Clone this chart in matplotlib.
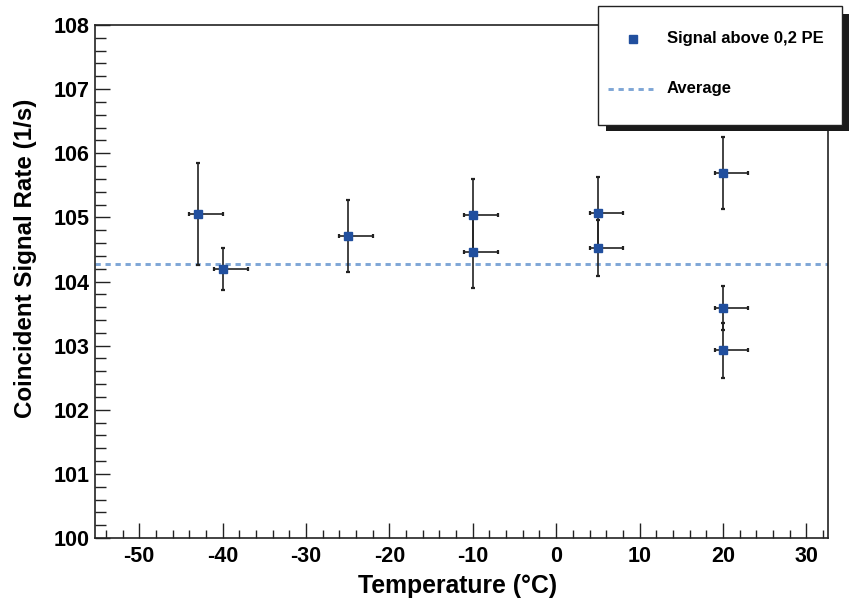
import matplotlib
matplotlib.use("Agg")
import matplotlib.pyplot as plt
from matplotlib.patches import Rectangle
from matplotlib.lines import Line2D
from matplotlib.ticker import MultipleLocator

plt.rcParams['font.family'] = ['Liberation Sans', 'DejaVu Sans']
plt.rcParams['font.weight'] = 'bold'
plt.rcParams['lines.scale_dashes'] = False
plt.rcParams['axes.unicode_minus'] = False

# ---- data ----
temps = [-43, -40, -25, -10, -10, 5, 5, 20, 20, 20]
rates = [105.05, 104.20, 104.71, 105.04, 104.46, 105.07, 104.52, 105.69, 103.59, 102.93]
rate_err = [0.80, 0.33, 0.56, 0.56, 0.56, 0.56, 0.44, 0.56, 0.34, 0.43]
temp_err_lo = [1.0, 1.0, 1.0, 1.0, 1.0, 1.0, 1.0, 1.0, 1.0, 1.0]
temp_err_hi = [3.0, 3.0, 3.0, 3.0, 3.0, 3.0, 3.0, 3.0, 3.0, 3.0]
average = 104.27
series_label = "Signal above 0,2 PE"
avg_label = "Average"
xlabel = "Temperature (°C)"
ylabel = "Coincident Signal Rate (1/s)"

W, H = 850, 600
fig = plt.figure(figsize=(8.5, 6), dpi=100)
ax = fig.add_axes([95 / W, 1 - 538 / H, 733 / W, 513 / H])

marker_color = '#214f9e'
avg_color = '#7ea6d6'

ax.axhline(average, color=avg_color, lw=2.1, dashes=(3.8, 3.4), zorder=2)
ax.errorbar(temps, rates, yerr=rate_err, xerr=[temp_err_lo, temp_err_hi],
            fmt='s', color=marker_color, ms=5.5, mec=marker_color,
            ecolor='#222222', elinewidth=1.2, capsize=1.2, capthick=1.6, zorder=3)

ax.set_xlim(-55.3, 32.6)
ax.set_ylim(100, 108)
ax.xaxis.set_major_locator(MultipleLocator(10))
ax.xaxis.set_minor_locator(MultipleLocator(2))
ax.yaxis.set_major_locator(MultipleLocator(1))
ax.yaxis.set_minor_locator(MultipleLocator(0.2))
ax.tick_params(axis='both', which='both', direction='in', top=False, right=False,
               labelsize=15.5, width=1.0, color='#222222')
ax.tick_params(axis='x', which='major', length=11, pad=6)
ax.tick_params(axis='x', which='minor', length=5.5)
ax.tick_params(axis='y', which='major', length=11, pad=4)
ax.tick_params(axis='y', which='minor', length=8)
for lab in ax.get_xticklabels() + ax.get_yticklabels():
    lab.set_fontweight('bold')
for s in ax.spines.values():
    s.set_linewidth(1.2)
    s.set_color('#222222')

fig.text(458 / W, 1 - 586 / H, xlabel, ha='center', va='center', fontsize=17.8, fontweight='bold')
fig.text(26 / W, 1 - 258 / H, ylabel, ha='center', va='center', rotation=90,
         fontsize=17.4, fontweight='bold')

# ---- legend (ROOT style with shadow) ----
shadow = Rectangle((606 / W, 1 - 131 / H), 243 / W, 117 / H, transform=fig.transFigure,
                   facecolor='#1a1a1a', edgecolor='none', zorder=10)
box = Rectangle((598 / W, 1 - 125 / H), 244 / W, 119 / H, transform=fig.transFigure,
                facecolor='white', edgecolor='#222222', lw=1.0, zorder=11)
fig.add_artist(shadow)
fig.add_artist(box)
fig.add_artist(Line2D([632.7 / W], [1 - 39 / H], transform=fig.transFigure, marker='s',
                      ms=5.5, color=marker_color, ls='none', zorder=12))
fig.add_artist(Line2D([608 / W, 653 / W], [1 - 89 / H, 1 - 89 / H], transform=fig.transFigure,
                      color=avg_color, lw=2.1, dashes=(3.8, 3.4), zorder=12))
fig.text(667 / W, 1 - 38 / H, series_label, ha='left', va='center', fontsize=12,
         fontweight='bold', zorder=12)
fig.text(667 / W, 1 - 89 / H, avg_label, ha='left', va='center', fontsize=12,
         fontweight='bold', zorder=12)

fig.savefig('out.png', dpi=100)
